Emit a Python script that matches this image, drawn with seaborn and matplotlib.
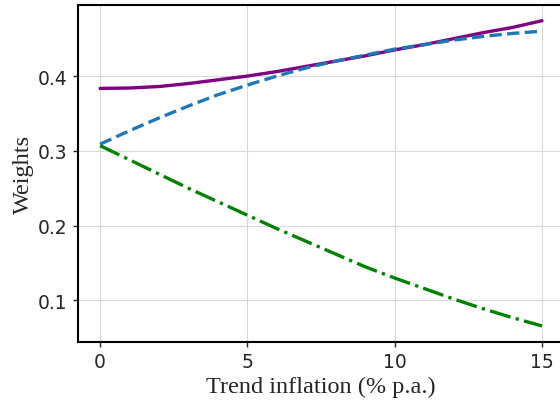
import matplotlib
matplotlib.use("Agg")
import matplotlib.pyplot as plt
import seaborn as sns

# trend inflation grid (% p.a.)
inflation = list(range(16))

# weights
w_solid = [0.3835, 0.384, 0.386, 0.390, 0.395, 0.400, 0.406, 0.413,
           0.420, 0.427, 0.435, 0.442, 0.450, 0.458, 0.465, 0.474]
w_dashed = [0.309, 0.327, 0.344, 0.360, 0.375, 0.388, 0.400, 0.411,
            0.420, 0.428, 0.436, 0.442, 0.448, 0.453, 0.457, 0.460]
w_dashdot = [0.307, 0.288, 0.269, 0.250, 0.232, 0.214, 0.196, 0.179,
             0.162, 0.145, 0.130, 0.116, 0.102, 0.089, 0.077, 0.066]

xticks = [0, 5, 10, 15]
yticks = [0.1, 0.2, 0.3, 0.4]

sns.set_style("ticks")
plt.rcParams["font.family"] = ["DejaVu Sans"]

fig = plt.figure(figsize=(5.6, 4.1), dpi=100)
ax = fig.add_axes([0.1393, 0.1634, 0.868, 0.822])

sns.lineplot(x=inflation, y=w_solid, ax=ax, color="purple", lw=2.4)
sns.lineplot(x=inflation, y=w_dashed, ax=ax, color="#1f77b4", lw=2.4,
             linestyle="--")
sns.lineplot(x=inflation, y=w_dashdot, ax=ax, color="green", lw=2.4,
             linestyle="-.")

ax.set_xlim(-0.75, 15.75)
ax.set_ylim(0.0445, 0.495)
ax.set_xticks(xticks)
ax.set_yticks(yticks)
ax.set_xticklabels([str(t) for t in xticks])
ax.set_yticklabels([f"{t:.1f}" for t in yticks])
ax.grid(True, color="#d9d9d9", lw=0.8)
ax.tick_params(labelsize=13.5, length=3.5, width=1, direction="out", pad=4)

for s in ax.spines.values():
    s.set_linewidth(1.5)
    s.set_color("black")

ax.set_xlabel("Trend inflation (% p.a.)", family="Liberation Serif",
              fontsize=17.5, labelpad=3)
ax.set_ylabel("Weights", family="Liberation Serif", fontsize=17.5, labelpad=3)

fig.savefig("out.png", dpi=100)
plt.close(fig)
